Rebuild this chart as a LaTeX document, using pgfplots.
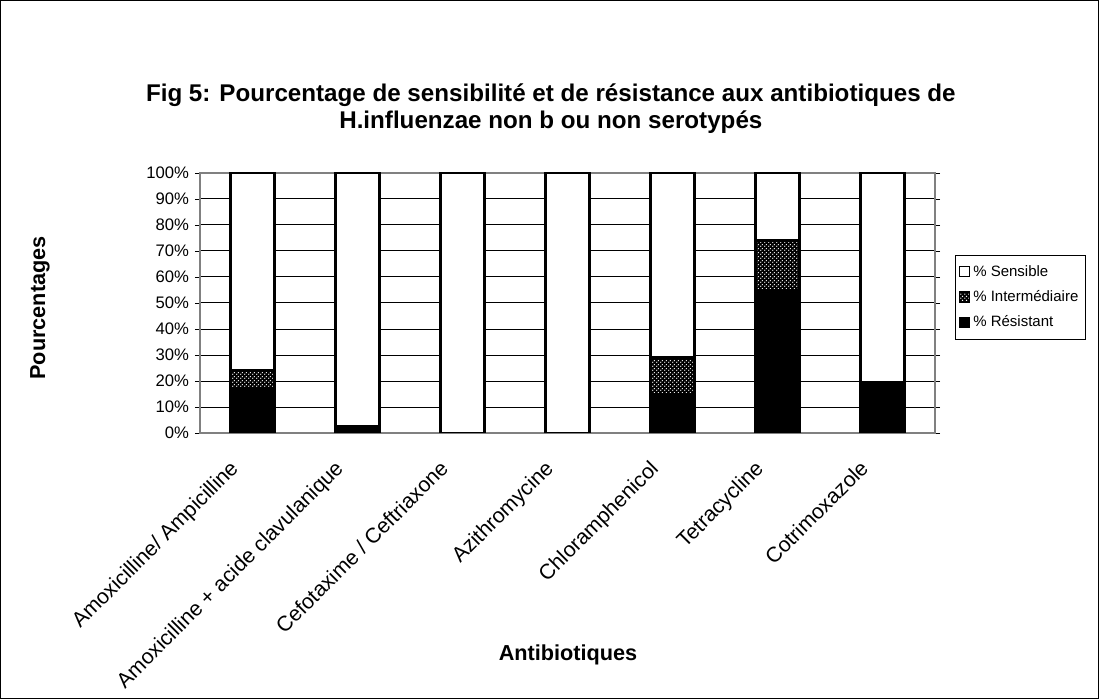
\documentclass[border=0pt]{standalone}
\usepackage{fontspec}
\setmainfont{Liberation Sans}
\usepackage{pgfplots}
\pgfplotsset{compat=1.18}
\usetikzlibrary{patterns}

% dense dot pattern, close to the Excel dotted fill (white dots on black)
\pgfdeclarepatternformonly{xdots}{\pgfqpoint{0pt}{0pt}}{\pgfqpoint{2.4pt}{2.4pt}}{\pgfqpoint{2.4pt}{2.4pt}}{%
  \pgfpathcircle{\pgfqpoint{0.6pt}{0.6pt}}{0.5pt}%
  \pgfpathcircle{\pgfqpoint{1.8pt}{1.8pt}}{0.5pt}%
  \pgfusepath{fill}}

\pgfplotstableread{
x R I S
0 17 7 76
1 2.7 0 97.3
2 0 0 100
3 0 0 100
4 15 14 71
5 55 19 26
6 19.5 0 80.5
}\abdata

\begin{document}
\begin{tikzpicture}
  % frame of the whole chart
  \draw[line width=0.8pt] (0.5pt,0.5pt) rectangle (658.9pt,418.9pt);
  \node[font=\bfseries\fontsize{14.5}{16.2}\selectfont, align=center]
    at (330.5pt,354.3pt)
    {Fig 5: Pourcentage de sensibilité et de résistance aux antibiotiques de\\
     H.influenzae non b ou non serotypés};
  \node[font=\bfseries\fontsize{13}{15}\selectfont, rotate=90]
    at (24pt,234.6pt) {Pourcentages};
  \node[font=\bfseries\fontsize{13}{15}\selectfont]
    at (340.8pt,26.4pt) {Antibiotiques};

  \begin{axis}[
      at={(120pt,159.6pt)}, anchor=south west,
      scale only axis,
      width=441pt, height=156pt,
      ybar stacked, bar width=26.4pt,
      xmin=-0.5, xmax=6.5,
      ymin=0, ymax=100,
      ytick={0,10,...,100},
      yticklabel={\pgfmathprintnumber{\tick}\%},
      /pgf/number format/assume math mode=true,
      xtick={0,...,6},
      xticklabels={Amoxicilline/ Ampicilline, Amoxicilline + acide clavulanique,
        Cefotaxime / Ceftriaxone, Azithromycine, Chloramphenicol,
        Tetracycline, Cotrimoxazole},
      xticklabel style={rotate=45, anchor=north east, xshift=-18.9pt, yshift=1.4pt,
        inner sep=0pt, font=\fontsize{12.7}{14}\selectfont},
      extra x ticks={-0.5,0.5,...,6.5},
      extra x tick labels={},
      extra x tick style={major tick length=4pt, tick style={black}, grid=none},
      x tick style={draw=none},
      y tick style={black},
      tick align=outside,
      major tick length=3pt,
      ymajorgrids,
      grid style={black, line width=0.5pt},
      axis line style={gray, line width=0.8pt},
      yticklabel style={font=\fontsize{10}{12}\selectfont},
      reverse legend,
      legend style={at={(1.027,0.685)}, anchor=north west, draw=black,
        font=\fontsize{9}{10}\selectfont, row sep=3pt,
        inner xsep=2pt, inner ysep=4pt,
        legend cell align=left},
      legend image code/.code={\draw[#1, line width=0.8pt] (0pt,-3pt) rectangle (6pt,3pt);},
    ]
    \addplot[fill=black, draw=black, line width=1.4pt] table[x=x, y=R] \abdata;
    \addlegendentry{\% Résistant}
    \addplot[fill=black, postaction={pattern=xdots, pattern color=white},
      draw=black, line width=1.4pt]
      table[x=x, y=I] \abdata;
    \addlegendentry{\% Intermédiaire}
    \addplot[fill=white, draw=black, line width=1.4pt] table[x=x, y=S] \abdata;
    \addlegendentry{\% Sensible}
  \end{axis}
\end{tikzpicture}
\end{document}
